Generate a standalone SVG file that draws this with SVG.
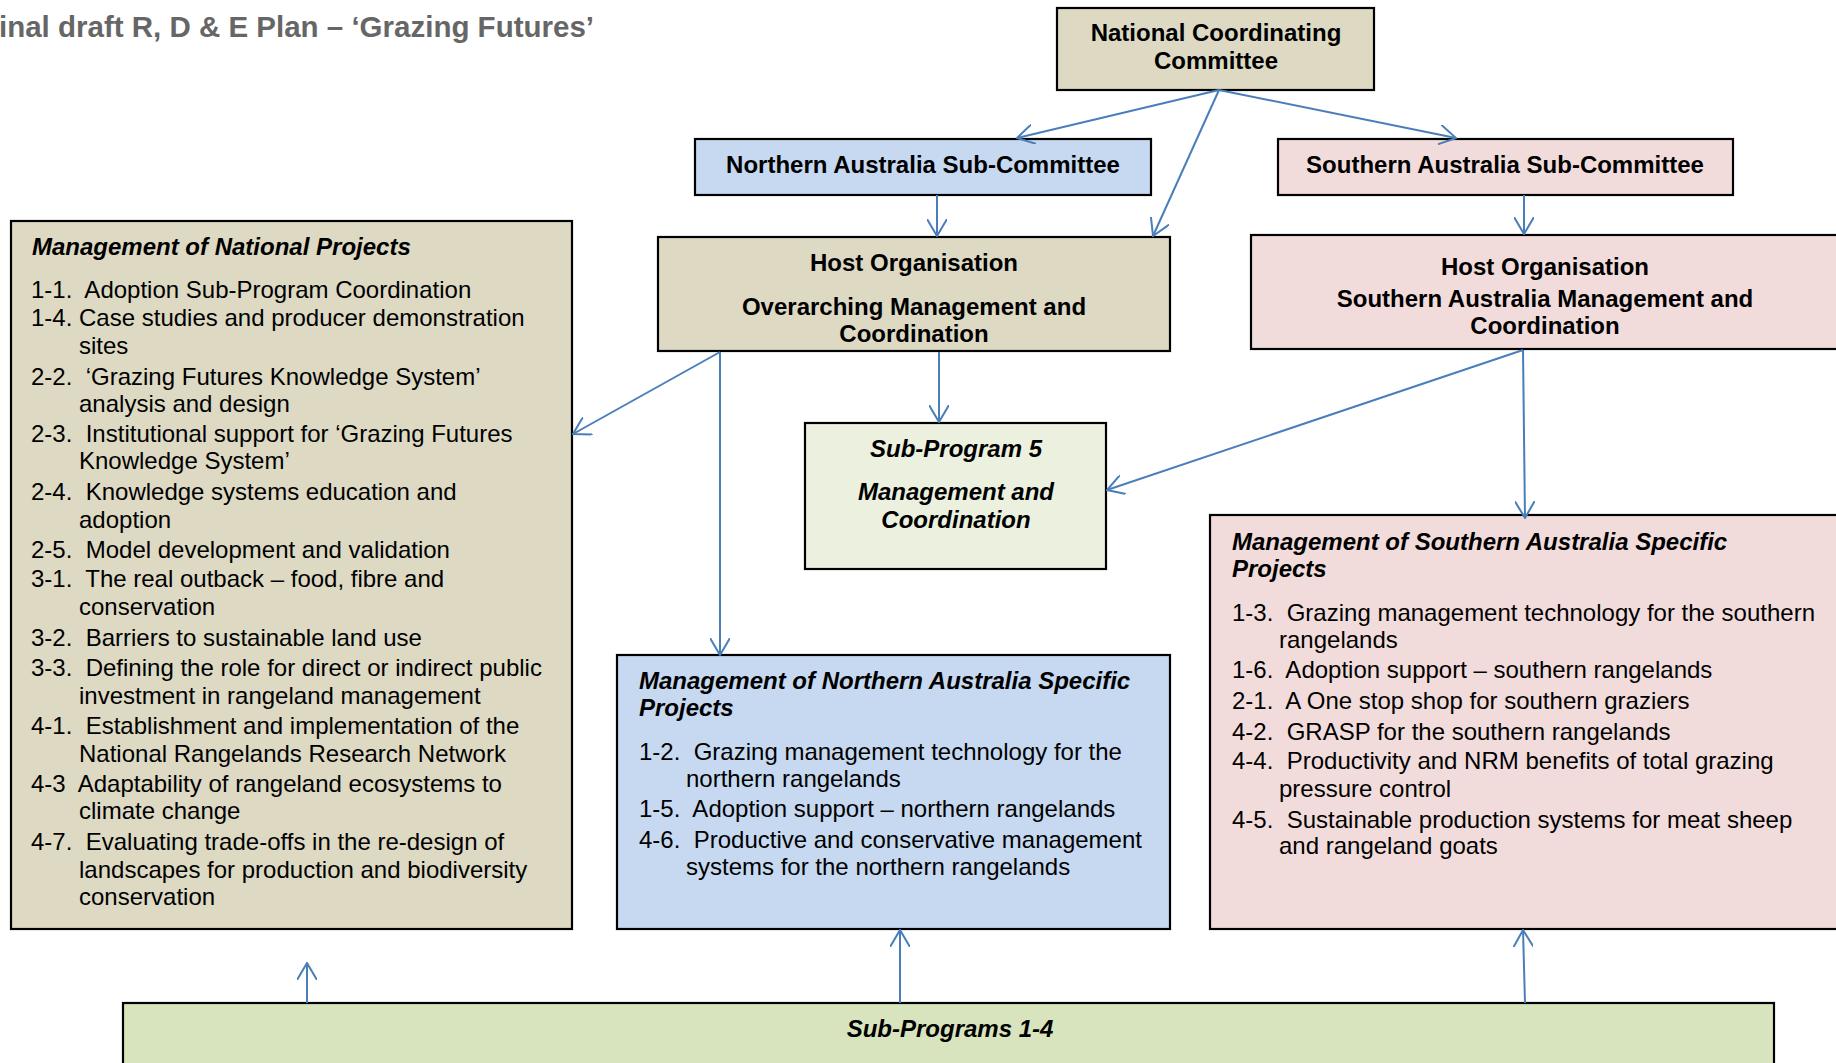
<svg xmlns="http://www.w3.org/2000/svg" width="1836" height="1063" viewBox="0 0 1836 1063">
<style>
text { font-family: "Liberation Sans", Arial, sans-serif; font-size: 24px; fill: #000; white-space: pre; }
.b { font-weight: bold; }
.bi { font-weight: bold; font-style: italic; }
.c { text-anchor: middle; }
.title { font-size: 29.5px; font-weight: bold; fill: #666666; text-anchor: end; }
.box { stroke: #000; stroke-width: 2.2; }
.tan { fill: #ddd9c3; }
.blue { fill: #c6d9f1; }
.pink { fill: #f2dcdb; }
.pale { fill: #ebf1de; }
.green { fill: #d7e4bd; }
.conn line { stroke: #4a7ebb; stroke-width: 2; fill: none; marker-end: url(#arr); }
</style>
<defs>
<marker id="arr" viewBox="0 0 18 20" refX="17" refY="10" markerWidth="18" markerHeight="20" markerUnits="userSpaceOnUse" orient="auto">
<path d="M0,0 L17,10 L0,20" fill="none" stroke="#4a7ebb" stroke-width="2"/>
</marker>
</defs>
<rect width="1836" height="1063" fill="#fff"/>
<text class="title" x="594" y="37">inal draft R, D &amp; E Plan – ‘Grazing Futures’</text>

<g id="national-committee">
<rect class="box tan" x="1057" y="8" width="317" height="82"/>
<text class="b c" x="1216" y="41">National Coordinating</text>
<text class="b c" x="1216" y="69">Committee</text>
</g>
<g id="northern-subcommittee">
<rect class="box blue" x="695" y="139" width="456" height="56"/>
<text class="b c" x="923" y="173">Northern Australia Sub-Committee</text>
</g>
<g id="southern-subcommittee">
<rect class="box pink" x="1278" y="139" width="455" height="56"/>
<text class="b c" x="1505" y="173">Southern Australia Sub-Committee</text>
</g>
<g id="host-organisation">
<rect class="box tan" x="658" y="237" width="512" height="114"/>
<text class="b c" x="914" y="271">Host Organisation</text>
<text class="b c" x="914" y="315">Overarching Management and</text>
<text class="b c" x="914" y="342">Coordination</text>
</g>
<g id="southern-host">
<rect class="box pink" x="1251" y="235" width="600" height="114"/>
<text class="b c" x="1545" y="275">Host Organisation</text>
<text class="b c" x="1545" y="307">Southern Australia Management and</text>
<text class="b c" x="1545" y="334">Coordination</text>
</g>
<g id="national-projects">
<rect class="box tan" x="11" y="221" width="561" height="708"/>
<text class="bi" x="32" y="255">Management of National Projects</text>
<text x="31" y="298">1-1.  Adoption Sub-Program Coordination</text>
<text x="31" y="326">1-4. Case studies and producer demonstration</text>
<text x="79" y="354">sites</text>
<text x="31" y="385">2-2.  ‘Grazing Futures Knowledge System’</text>
<text x="79" y="412">analysis and design</text>
<text x="31" y="442">2-3.  Institutional support for ‘Grazing Futures</text>
<text x="79" y="469">Knowledge System’</text>
<text x="31" y="500">2-4.  Knowledge systems education and</text>
<text x="79" y="528">adoption</text>
<text x="31" y="558">2-5.  Model development and validation</text>
<text x="31" y="587">3-1.  The real outback – food, fibre and</text>
<text x="79" y="615">conservation</text>
<text x="31" y="646">3-2.  Barriers to sustainable land use</text>
<text x="31" y="676">3-3.  Defining the role for direct or indirect public</text>
<text x="79" y="704">investment in rangeland management</text>
<text x="31" y="734">4-1.  Establishment and implementation of the</text>
<text x="79" y="762">National Rangelands Research Network</text>
<text x="31" y="792">4-3  Adaptability of rangeland ecosystems to</text>
<text x="79" y="819">climate change</text>
<text x="31" y="850">4-7.  Evaluating trade-offs in the re-design of</text>
<text x="79" y="878">landscapes for production and biodiversity</text>
<text x="79" y="905">conservation</text>
</g>
<g id="sub-program-5">
<rect class="box pale" x="805" y="423" width="301" height="146"/>
<text class="bi c" x="956" y="457">Sub-Program 5</text>
<text class="bi c" x="956" y="500">Management and</text>
<text class="bi c" x="956" y="528">Coordination</text>
</g>
<g id="northern-projects">
<rect class="box blue" x="617" y="655" width="553" height="274"/>
<text class="bi" x="639" y="689">Management of Northern Australia Specific</text>
<text class="bi" x="639" y="716">Projects</text>
<text x="639" y="760">1-2.  Grazing management technology for the</text>
<text x="686" y="787">northern rangelands</text>
<text x="639" y="817">1-5.  Adoption support – northern rangelands</text>
<text x="639" y="848">4-6.  Productive and conservative management</text>
<text x="686" y="875">systems for the northern rangelands</text>
</g>
<g id="southern-projects">
<rect class="box pink" x="1210" y="515" width="640" height="414"/>
<text class="bi" x="1232" y="550">Management of Southern Australia Specific</text>
<text class="bi" x="1232" y="577">Projects</text>
<text x="1232" y="621">1-3.  Grazing management technology for the southern</text>
<text x="1279" y="648">rangelands</text>
<text x="1232" y="678">1-6.  Adoption support – southern rangelands</text>
<text x="1232" y="709">2-1.  A One stop shop for southern graziers</text>
<text x="1232" y="740">4-2.  GRASP for the southern rangelands</text>
<text x="1232" y="769">4-4.  Productivity and NRM benefits of total grazing</text>
<text x="1279" y="797">pressure control</text>
<text x="1232" y="828">4-5.  Sustainable production systems for meat sheep</text>
<text x="1279" y="854">and rangeland goats</text>
</g>
<g id="sub-programs-1-4">
<rect class="box green" x="123" y="1003" width="1651" height="80"/>
<text class="bi c" x="950" y="1037">Sub-Programs 1-4</text>
</g>

<g id="connectors" class="conn">
<line x1="1219" y1="90" x2="1017" y2="138"/>
<line x1="1219" y1="90" x2="1456" y2="138"/>
<line x1="1219" y1="90" x2="1153" y2="236"/>
<line x1="937" y1="195" x2="937" y2="236"/>
<line x1="1524" y1="195" x2="1524" y2="234"/>
<line x1="720" y1="352" x2="573" y2="434"/>
<line x1="720" y1="352" x2="720" y2="655"/>
<line x1="939" y1="352" x2="939" y2="422"/>
<line x1="1523" y1="350" x2="1107" y2="490"/>
<line x1="1523" y1="350" x2="1525" y2="518"/>
<line x1="307" y1="1003" x2="307" y2="963"/>
<line x1="900" y1="1003" x2="900" y2="930"/>
<line x1="1525" y1="1003" x2="1523" y2="930"/>
</g>
</svg>
